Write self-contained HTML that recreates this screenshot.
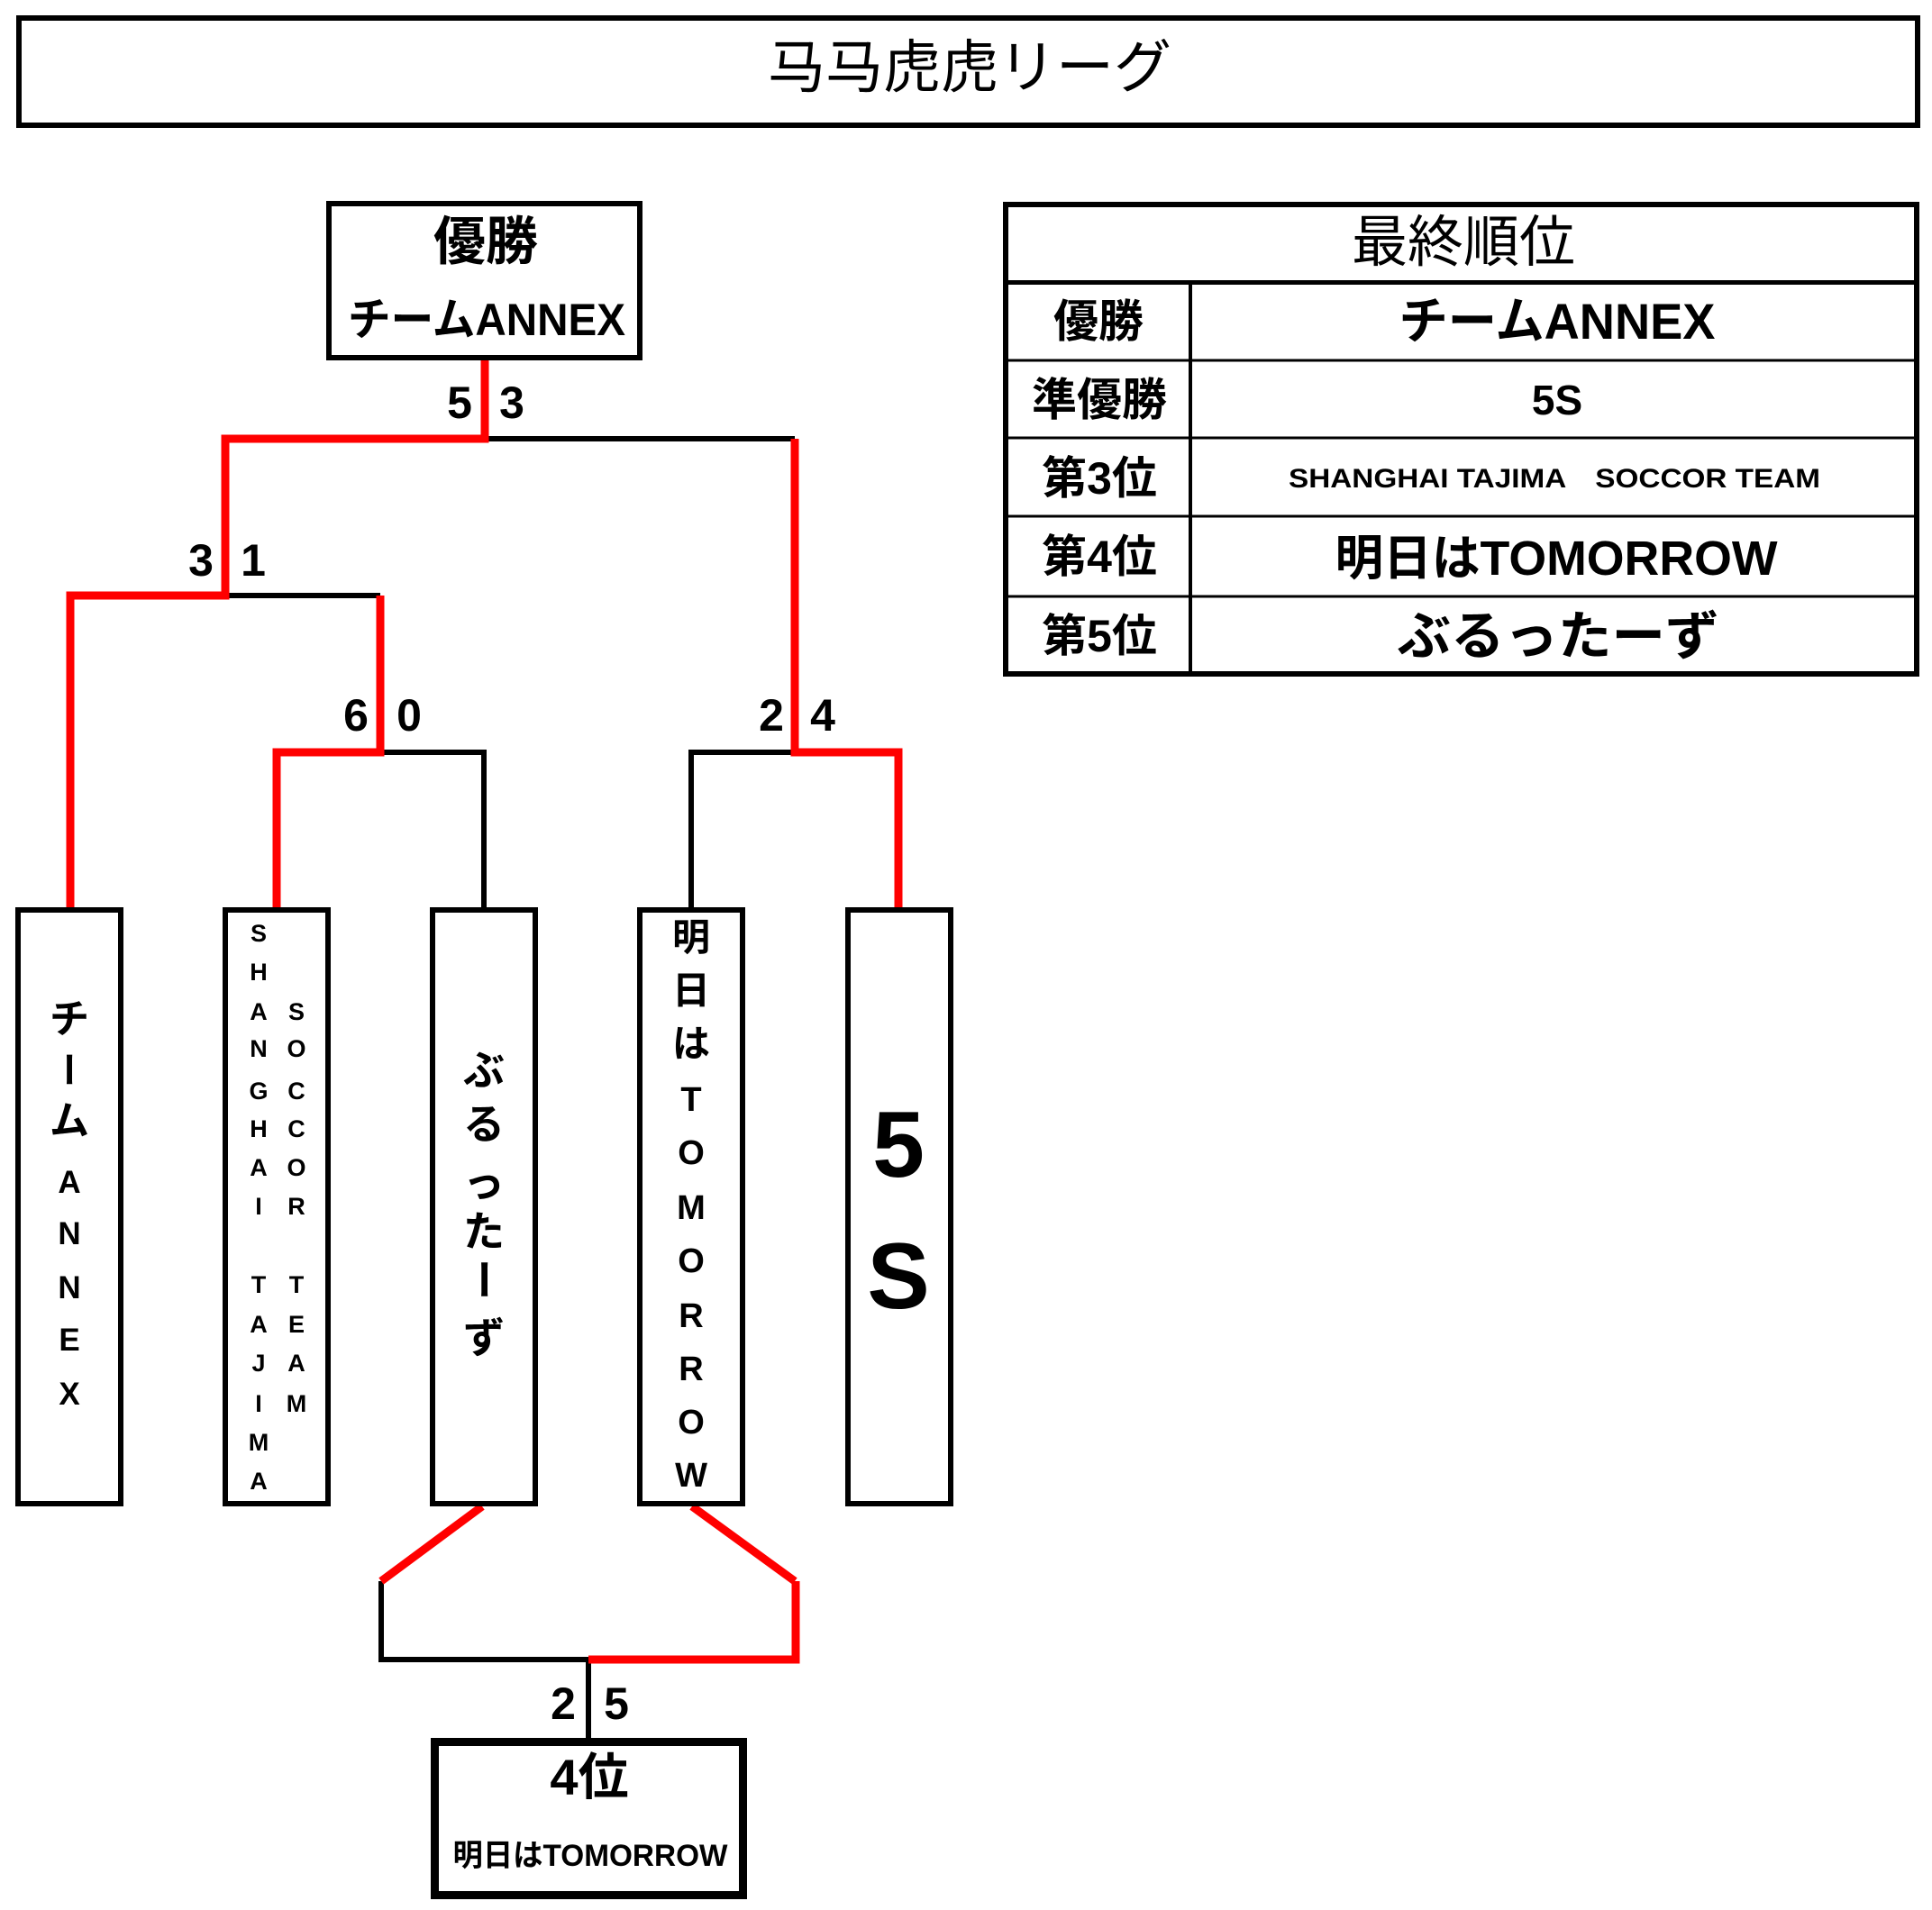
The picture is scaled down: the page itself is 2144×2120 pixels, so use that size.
<!DOCTYPE html>
<html><head><meta charset="utf-8">
<style>
html,body{margin:0;padding:0;background:#fff;}
svg{display:block;}
text{font-family:"Liberation Sans","Noto Sans CJK JP",sans-serif;fill:#000;}
.b{font-weight:bold;}
</style></head><body>
<svg width="2144" height="2120" viewBox="0 0 2144 2120" xmlns="http://www.w3.org/2000/svg">
<rect width="2144" height="2120" fill="#fff"/>

<!-- Title -->
<rect x="21" y="20" width="2107" height="119" fill="none" stroke="#000" stroke-width="6"/>
<text x="1076" y="97" font-size="64" text-anchor="middle">马马虎虎リーグ</text>

<!-- Bracket lines: black first -->
<g fill="none" stroke="#000" stroke-width="6" stroke-linejoin="miter">
  <path d="M538,487 H882"/>
  <path d="M250,661 H422"/>
  <path d="M422,835 H537 V1008"/>
  <path d="M882,835 H767 V1008"/>
  <path d="M423,1755 V1842 H653"/>
  <path d="M653,1842 V1930"/>
</g>
<g fill="none" stroke="#f00" stroke-width="9" stroke-linejoin="miter">
  <path d="M538,398 V487 H250 V661 H78 V1008"/>
  <path d="M307,1008 V835 H422 V661"/>
  <path d="M882,487 V835 H997 V1008"/>
  <path d="M535,1672 L423,1755"/>
  <path d="M768,1672 L882,1755"/>
  <path d="M883,1755 V1842 H653"/>
</g>

<!-- Winner box -->
<rect x="365" y="226" width="345" height="171" fill="#fff" stroke="#000" stroke-width="6"/>
<text class="b" x="539" y="288" font-size="58" text-anchor="middle">優勝</text>
<text class="b" x="540" y="372" font-size="50" text-anchor="middle" textLength="308" lengthAdjust="spacingAndGlyphs">チームANNEX</text>

<!-- Scores -->
<g class="b" font-size="50" text-anchor="middle">
  <text class="b" x="510" y="464">5</text>
  <text class="b" x="568" y="464">3</text>
  <text class="b" x="223" y="639">3</text>
  <text class="b" x="281" y="639">1</text>
  <text class="b" x="395" y="811">6</text>
  <text class="b" x="454" y="811">0</text>
  <text class="b" x="856" y="811">2</text>
  <text class="b" x="913" y="811">4</text>
  <text class="b" x="625" y="1908">2</text>
  <text class="b" x="684" y="1908">5</text>
</g>

<!-- Team boxes -->
<g fill="#fff" stroke="#000" stroke-width="6">
  <rect x="20" y="1010" width="114" height="659"/>
  <rect x="250" y="1010" width="114" height="659"/>
  <rect x="480" y="1010" width="114" height="659"/>
  <rect x="710" y="1010" width="114" height="659"/>
  <rect x="941" y="1010" width="114" height="659"/>
</g>

<!-- Box1 -->
<g text-anchor="middle">
  <text class="b" x="77" y="1146" font-size="44">チ</text>
  <text class="b" x="77" y="1202" font-size="40" transform="rotate(90 77 1187)">ー</text>
  <text class="b" x="77" y="1259" font-size="44">ム</text>
  <text class="b" x="77" y="1324" font-size="35">A</text>
  <text class="b" x="77" y="1381" font-size="35">N</text>
  <text class="b" x="77" y="1441" font-size="35">N</text>
  <text class="b" x="77" y="1499" font-size="35">E</text>
  <text class="b" x="77" y="1559" font-size="35">X</text>
</g>

<!-- Box2 -->
<g text-anchor="middle" font-size="27">
  <text class="b" x="287" y="1045">S</text>
  <text class="b" x="287" y="1088">H</text>
  <text class="b" x="287" y="1132">A</text>
  <text class="b" x="287" y="1173">N</text>
  <text class="b" x="287" y="1220">G</text>
  <text class="b" x="287" y="1262">H</text>
  <text class="b" x="287" y="1305">A</text>
  <text class="b" x="287" y="1348">I</text>
  <text class="b" x="287" y="1435">T</text>
  <text class="b" x="287" y="1479">A</text>
  <text class="b" x="287" y="1522">J</text>
  <text class="b" x="287" y="1567">I</text>
  <text class="b" x="287" y="1610">M</text>
  <text class="b" x="287" y="1653">A</text>

  <text class="b" x="329" y="1132">S</text>
  <text class="b" x="329" y="1173">O</text>
  <text class="b" x="329" y="1220">C</text>
  <text class="b" x="329" y="1262">C</text>
  <text class="b" x="329" y="1305">O</text>
  <text class="b" x="329" y="1348">R</text>
  <text class="b" x="329" y="1435">T</text>
  <text class="b" x="329" y="1479">E</text>
  <text class="b" x="329" y="1522">A</text>
  <text class="b" x="329" y="1567">M</text>
</g>

<!-- Box3 -->
<g text-anchor="middle" font-size="46">
  <text class="b" x="537" y="1204">ぶ</text>
  <text class="b" x="537" y="1264">る</text>
  <text class="b" x="537" y="1329">っ</text>
  <text class="b" x="537" y="1383">た</text>
  <text class="b" x="537" y="1437" transform="rotate(90 537 1420)">ー</text>
  <text class="b" x="537" y="1501">ず</text>
</g>

<!-- Box4 -->
<g text-anchor="middle">
  <text class="b" x="767" y="1055" font-size="42">明</text>
  <text class="b" x="767" y="1114" font-size="42">日</text>
  <text class="b" x="767" y="1173" font-size="42">は</text>
  <text class="b" x="767" y="1233" font-size="38">T</text>
  <text class="b" x="767" y="1292" font-size="38">O</text>
  <text class="b" x="767" y="1353" font-size="38">M</text>
  <text class="b" x="767" y="1412" font-size="38">O</text>
  <text class="b" x="767" y="1473" font-size="38">R</text>
  <text class="b" x="767" y="1532" font-size="38">R</text>
  <text class="b" x="767" y="1591" font-size="38">O</text>
  <text class="b" x="767" y="1650" font-size="38">W</text>
</g>

<!-- Box5 -->
<g text-anchor="middle" font-size="104">
  <text class="b" x="997" y="1306">5</text>
  <text class="b" x="997" y="1452">S</text>
</g>

<!-- 4th place box -->
<rect x="482.5" y="1933.5" width="342" height="170" fill="#fff" stroke="#000" stroke-width="9"/>
<text class="b" x="654" y="1992" font-size="56" text-anchor="middle">4位</text>
<text class="b" x="655" y="2071" font-size="34" text-anchor="middle" textLength="305" lengthAdjust="spacingAndGlyphs">明日はTOMORROW</text>

<!-- Ranking table -->
<rect x="1116" y="227" width="1011" height="521" fill="none" stroke="#000" stroke-width="6"/>
<line x1="1113" y1="313.5" x2="2130" y2="313.5" stroke="#000" stroke-width="5"/>
<g stroke="#000" stroke-width="3">
  <line x1="1116" y1="400" x2="2127" y2="400"/>
  <line x1="1116" y1="486" x2="2127" y2="486"/>
  <line x1="1116" y1="573" x2="2127" y2="573"/>
  <line x1="1116" y1="662" x2="2127" y2="662"/>
</g>
<line x1="1321" y1="313" x2="1321" y2="748" stroke="#000" stroke-width="4"/>

<text x="1624" y="290" font-size="62" text-anchor="middle">最終順位</text>

<g text-anchor="middle">
  <text class="b" x="1219" y="374" font-size="50">優勝</text>
  <text class="b" x="1220" y="461" font-size="50">準優勝</text>
  <text class="b" x="1220" y="548" font-size="50">第3位</text>
  <text class="b" x="1220" y="635" font-size="50">第4位</text>
  <text class="b" x="1220" y="723" font-size="50">第5位</text>

  <text class="b" x="1728" y="376" font-size="56" textLength="351" lengthAdjust="spacingAndGlyphs">チームANNEX</text>
  <text class="b" x="1728" y="460" font-size="46">5S</text>
  <text class="b" x="1725" y="541" font-size="30" textLength="590" lengthAdjust="spacingAndGlyphs">SHANGHAI TAJIMA　SOCCOR TEAM</text>
  <text class="b" x="1727" y="638" font-size="54" textLength="491" lengthAdjust="spacingAndGlyphs">明日はTOMORROW</text>
  <text class="b" x="1729" y="726" font-size="58" textLength="357" lengthAdjust="spacingAndGlyphs">ぶるったーず</text>
</g>
</svg>
</body></html>
